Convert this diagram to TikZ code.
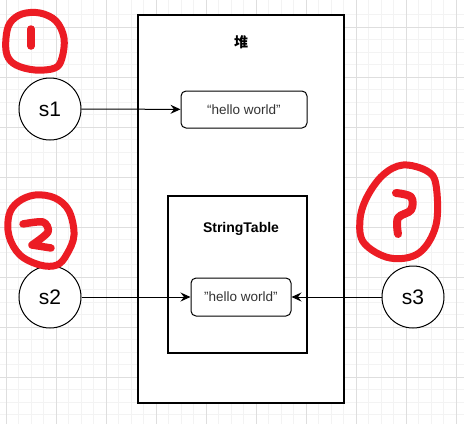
\documentclass[tikz,border=0pt]{standalone}
\usepackage{fontspec}
\setmainfont{Liberation Sans}
\newfontfamily\cjk{Noto Sans CJK SC}
\usepackage{xcolor}
\usetikzlibrary{arrows.meta}

\definecolor{gridminor}{RGB}{243,243,243}
\definecolor{gridmajor}{RGB}{222,222,222}
\definecolor{pen}{RGB}{236,28,36}
\definecolor{strgray}{RGB}{51,51,51}

\begin{document}
\begin{tikzpicture}[x=1pt, y=-1pt,
    varnode/.style={draw, circle, line width=1pt, minimum size=62pt, inner sep=0pt, fill=white,
                    font=\fontsize{21}{21}\selectfont},
    areabox/.style={draw, line width=1.1pt, fill=white, inner sep=0pt},
    strbox/.style={draw, rounded corners=5pt, line width=1pt, fill=white, inner sep=0pt,
                   text=strgray, font=\fontsize{13.5}{13.5}\selectfont},
    title/.style={font=\bfseries\fontsize{14}{14}\selectfont},
    ref/.style={-{Stealth[length=10pt, width=9pt, inset=3.5pt]}, line width=1pt},
    scribble/.style={draw=pen, line width=7pt, line cap=round, line join=round}]

    % background grid
    \useasboundingbox (0,0) rectangle (464,424);
    \fill[white] (0,0) rectangle (464,424);
    \foreach \k in {-1,...,37}{
      \draw[gridminor, line width=0.6pt] (6+12.5*\k,0) -- (6+12.5*\k,424);
      \draw[gridminor, line width=0.6pt] (0,27+12.5*\k) -- (464,27+12.5*\k);
    }
    \foreach \k in {-1,...,9}{
      \draw[gridmajor, line width=0.8pt] (6+50*\k,0) -- (6+50*\k,424);
      \draw[gridmajor, line width=0.8pt] (0,27+50*\k) -- (464,27+50*\k);
    }

    % heap and string table
    \node[areabox, minimum width=206pt, minimum height=388pt] (heap) at (241,209) {};
    \node[title] (heaplabel) at (241,42) {\cjk\bfseries 堆};
    \node[strbox, minimum width=126pt, minimum height=37pt] (str1) at (244,109.5) {“hello world”};

    \node[areabox, minimum width=139pt, minimum height=157pt] (table) at (237.5,274.5) {};
    \node[title] (tablelabel) at (241,229) {StringTable};
    \node[strbox, minimum width=100pt, minimum height=38pt] (str2) at (241,297) {"hello world"};

    % variables
    \node[varnode] (s1) at (50,109) {s1};
    \node[varnode] (s2) at (50,297) {s2};
    \node[varnode] (s3) at (413,297) {s3};

    \draw[ref] (s1) -- (str1);
    \draw[ref] (s2) -- (str2);
    \draw[ref] (s3) -- (str2);

    % red marks
    \draw[scribble] plot[smooth cycle, tension=0.6] coordinates
      {(10,23) (22,14) (40,13) (56,21) (64,38) (62,58) (55,68) (35,70) (16,65) (7,55) (6,38)};
    \draw[scribble, line width=7.5pt] (31,29) -- (31,46);

    \draw[scribble] plot[smooth cycle, tension=0.6] coordinates
      {(35,195) (55,198) (69,211) (74,235) (67,254) (57,265) (40,265) (20,255) (9,236) (9,215) (18,202)};
    \draw[scribble, line width=7.5pt] plot[smooth, tension=0.5] coordinates
      {(23,224) (43,222) (48,232) (32,245)} -- (51,248);

    \draw[scribble] plot[smooth cycle, tension=0.6] coordinates
      {(403,165) (427,171) (436,185) (436,225) (419,253) (390,258) (364,243) (360,220) (367,197) (383,175)};
    \draw[scribble, line width=8pt] plot[smooth, tension=0.6] coordinates
      {(396,193) (411,197) (411,210) (398,218) (398,234)};
\end{tikzpicture}
\end{document}
